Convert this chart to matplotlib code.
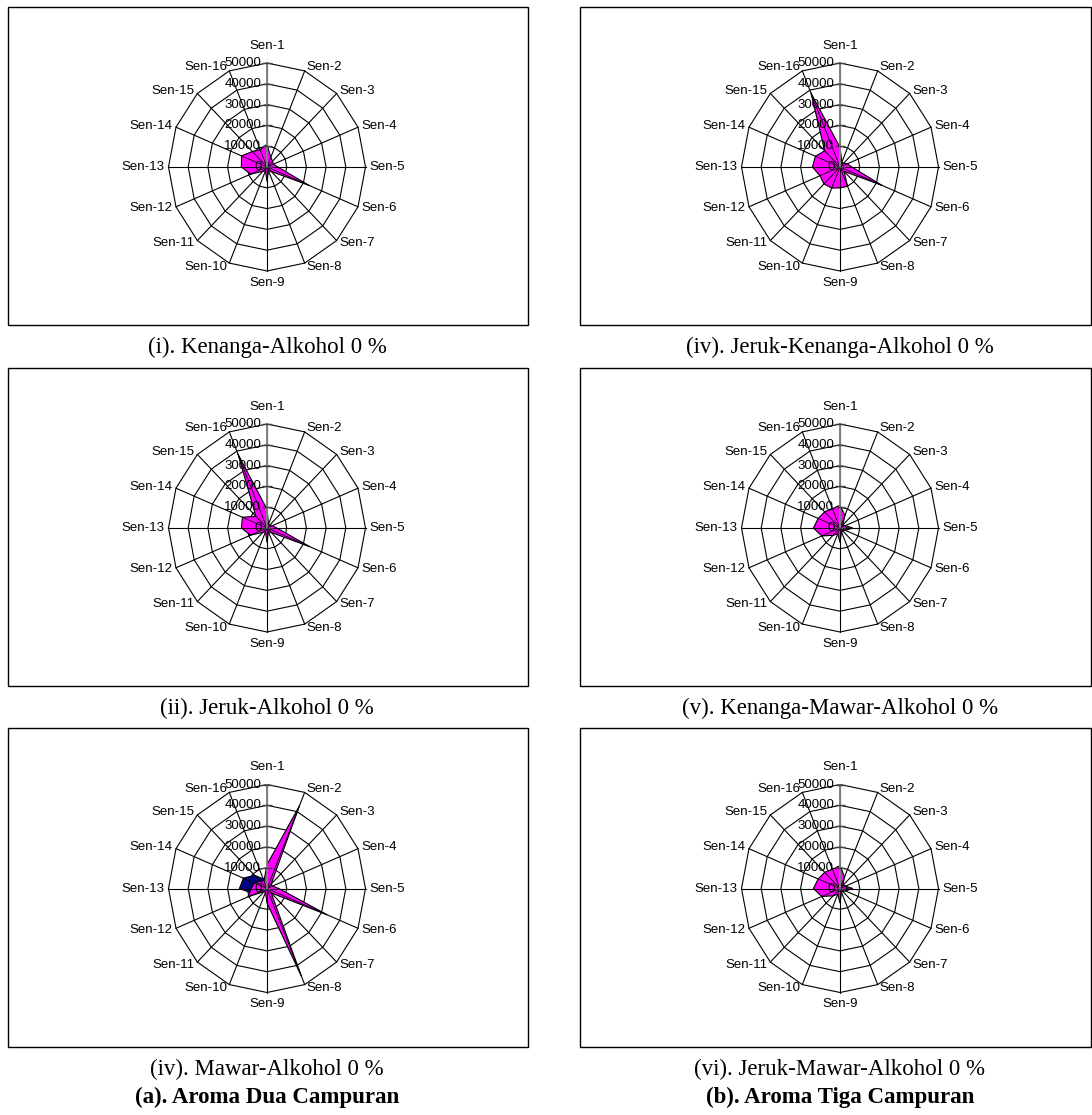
import matplotlib
matplotlib.use("Agg")
import matplotlib.pyplot as plt
import numpy as np
from matplotlib.patches import Rectangle

sensor_labels = ["Sen-1", "Sen-2", "Sen-3", "Sen-4", "Sen-5", "Sen-6", "Sen-7", "Sen-8",
                 "Sen-9", "Sen-10", "Sen-11", "Sen-12", "Sen-13", "Sen-14", "Sen-15", "Sen-16"]
ring_values = [0, 10000, 20000, 30000, 40000, 50000]

# sensor responses, Sen-1 .. Sen-16
kenanga_alkohol = [11000, 5000, 4000, 3500, 5500, 23000, 3000, 2000, 7000, 2000, 3000, 9000, 13000, 14000, 10500, 9000]
jeruk_alkohol = [9000, 2000, 2000, 3000, 5000, 23500, 3000, 2000, 7000, 2000, 3000, 9000, 13000, 13500, 8000, 38500]
mawar_alkohol = [11500, 43000, 3000, 3000, 6000, 33000, 3000, 45500, 7000, 2000, 2000, 10500, 8000, 7000, 5000, 4000]
mawar_alkohol_b = [4000, 3000, 2000, 2000, 3000, 3000, 2000, 3000, 3000, 2000, 2000, 7000, 14000, 13000, 9000, 5000]
jeruk_kenanga_alkohol = [9500, 2500, 2500, 4000, 6000, 23000, 3000, 10000, 10000, 11000, 11500, 11000, 14000, 13500, 11000, 38500]
kenanga_mawar_alkohol = [11000, 6500, 2000, 3000, 3500, 2000, 2000, 2000, 7000, 3000, 5000, 10000, 13500, 12000, 11000, 10000]
kenanga_mawar_alkohol_b = [2000, 2000, 2000, 3000, 6500, 3000, 2000, 1000, 1000, 1000, 1000, 1000, 1000, 1000, 1000, 1000]
jeruk_mawar_alkohol = [11000, 6000, 2000, 3000, 3500, 2000, 2000, 2000, 7000, 3000, 5000, 10000, 13500, 12000, 11000, 10000]
jeruk_mawar_alkohol_b = [2000, 2000, 2000, 3000, 6500, 3000, 2000, 1000, 1000, 1000, 1000, 1000, 1000, 1000, 1000, 1000]

W, H = 1092, 1115
RX, RY = 98.5, 104.0
fig = plt.figure(figsize=(W / 100, H / 100), dpi=100)
fig.patch.set_facecolor("white")

sans = "Liberation Sans"
serif = "Liberation Serif"


def radar(cx, cy, series, colors):
    ax = fig.add_axes([(cx - RX) / W, 1 - (cy + RY) / H, 2 * RX / W, 2 * RY / H], projection="polar")
    ax.set_aspect("auto")
    ax.set_theta_zero_location("N")
    ax.set_theta_direction(-1)
    ax.set_ylim(0, ring_values[-1])
    ax.axis("off")
    theta = np.arange(len(sensor_labels)) * 2 * np.pi / len(sensor_labels)
    closed = np.append(theta, theta[0])

    for r in ring_values[1:]:
        ax.plot(closed, np.full(len(closed), r), color="black", lw=0.8, clip_on=False, zorder=1)
    for t in theta:
        ax.plot([t, t], [0, ring_values[-1]], color="black", lw=0.8, clip_on=False, zorder=1)

    for vals, col in zip(series, colors):
        v = np.append(vals, vals[0])
        ax.fill(closed, v, facecolor=col, edgecolor="black", lw=0.8, zorder=3)
        for t, r in zip(theta, vals):
            ax.plot([t, t], [0, r], color="black", lw=0.6, zorder=3)

    # value axis with tick marks
    ax.plot([0, 0], [0, ring_values[-1]], color="#808080", lw=1.4, zorder=4, clip_on=False)
    ax.plot(np.zeros(len(ring_values)), ring_values, ls="none", marker="_", ms=7,
            mew=1.0, color="#404040", zorder=4, clip_on=False)
    for r in ring_values:
        ax.annotate(f"{r}", xy=(0, r), xytext=(-4, 0), textcoords="offset points",
                    ha="right", va="center", fontsize=9.5, family=sans, zorder=5,
                    annotation_clip=False)

    for t, name in zip(theta, sensor_labels):
        sx, cyy = np.sin(t), np.cos(t)
        if cyy > 0.99:
            ha, va, off = "center", "bottom", (0, 8)
        elif cyy < -0.99:
            ha, va, off = "center", "top", (0, -4)
        else:
            ha = "left" if sx > 0 else "right"
            va, off = "center", (3 * sx, 3 * cyy)
        ax.annotate(name, xy=(t, ring_values[-1]), xytext=off, textcoords="offset points",
                    ha=ha, va=va, fontsize=9.5, family=sans, annotation_clip=False)


def box(x0, y0, x1, y1):
    fig.patches.append(Rectangle((x0 / W, 1 - y1 / H), (x1 - x0) / W, (y1 - y0) / H,
                                 transform=fig.transFigure, fill=False, edgecolor="black", lw=1.0))


magenta, navy = "#FF00FF", "#000080"
left_x, right_x = 267, 840
rows_y = [167, 528, 888.5]
box_rows = [(7, 325), (368, 686), (728, 1047)]

panels = [
    (left_x, rows_y[0], [kenanga_alkohol], [magenta], "(i). Kenanga-Alkohol 0 %"),
    (left_x, rows_y[1], [jeruk_alkohol], [magenta], "(ii). Jeruk-Alkohol 0 %"),
    (left_x, rows_y[2], [mawar_alkohol_b, mawar_alkohol], [navy, magenta], "(iv). Mawar-Alkohol 0 %"),
    (right_x, rows_y[0], [jeruk_kenanga_alkohol], [magenta], "(iv). Jeruk-Kenanga-Alkohol 0 %"),
    (right_x, rows_y[1], [kenanga_mawar_alkohol_b, kenanga_mawar_alkohol], ["#800080", magenta],
     "(v). Kenanga-Mawar-Alkohol 0 %"),
    (right_x, rows_y[2], [jeruk_mawar_alkohol_b, jeruk_mawar_alkohol], ["#800080", magenta],
     "(vi). Jeruk-Mawar-Alkohol 0 %"),
]

for i, (cx, cy, series, colors, caption) in enumerate(panels):
    radar(cx, cy, series, colors)
    y0, y1 = box_rows[i % 3]
    if cx == left_x:
        box(8, y0, 528, y1)
    else:
        box(580, y0, 1091, y1)
    fig.text(cx / W, 1 - (y1 + 22) / H, caption, ha="center", va="center",
             fontsize=16.5, family=serif)

fig.text(left_x / W, 1 - 1097 / H, "(a). Aroma Dua Campuran", ha="center", va="center",
         fontsize=16.5, family=serif, weight="bold")
fig.text(right_x / W, 1 - 1097 / H, "(b). Aroma Tiga Campuran", ha="center", va="center",
         fontsize=16.5, family=serif, weight="bold")

fig.savefig("out.png", dpi=100)
